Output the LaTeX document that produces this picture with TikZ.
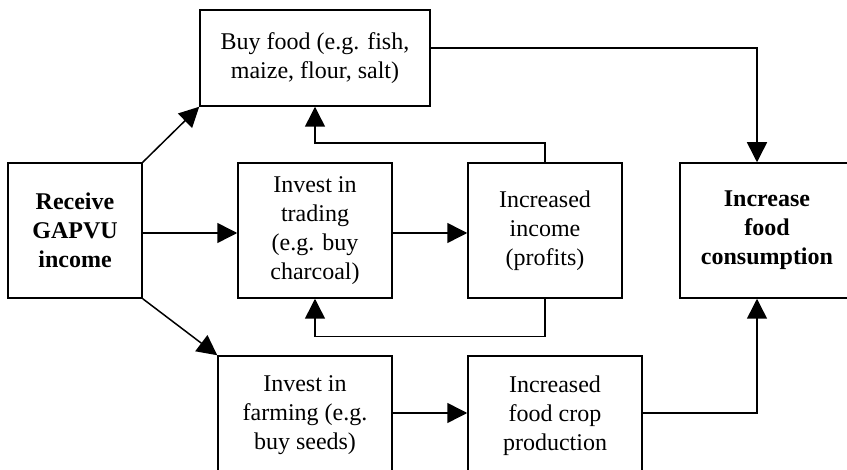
\documentclass[tikz,border=0pt]{standalone}
\usepackage{fontspec}
\setmainfont{Liberation Serif}
\usetikzlibrary{arrows.meta}

\begin{document}
\begin{tikzpicture}[
  box/.style={rectangle, draw=black, line width=1.5pt, inner sep=0pt, align=center,
    font=\fontsize{24}{29}\selectfont},
  flow/.style={line width=1.5pt, -{Triangle[length=20pt, width=20pt]}}]
\useasboundingbox (0pt, 0pt) rectangle (847pt, -470pt);
\fill [white] (0pt, 0pt) rectangle (847pt, -470pt);
\clip (0pt, 0pt) rectangle (847pt, -470pt);
\node (recv) [box, minimum width=134pt, minimum height=135pt] at (75pt, -230.5pt) {\textbf{Receive}\\\textbf{GAPVU}\\\textbf{income}};
\node (buy) [box, minimum width=230pt, minimum height=96pt] at (315pt, -58pt) {Buy food (e.g. fish,\\maize, flour, salt)};
\node (trade) [box, minimum width=154pt, minimum height=135pt] at (315pt, -230.5pt) {Invest in\\trading\\(e.g. buy\\charcoal)};
\node (inc) [box, minimum width=154pt, minimum height=135pt] at (545pt, -230.5pt) {Increased\\income\\(profits)};
\node (cons) [box, minimum width=174pt, minimum height=135pt] at (767pt, -230.5pt) {\textbf{Increase}\\\textbf{food}\\\textbf{consumption}};
% bottom row runs off the lower edge
\node (farm) [box, minimum width=174pt, minimum height=124pt, text depth=10pt] at (305pt, -418pt) {Invest in\\farming (e.g.\\buy seeds)};
\node (crop) [box, minimum width=174pt, minimum height=124pt, text depth=10pt] at (555pt, -418pt) {Increased\\food crop\\production};
\draw [flow] (recv.north east) to (buy.south west);
\draw [flow] ([yshift=-2.5pt]recv.east) to ([yshift=-2.5pt]trade.west);
\draw [flow] (recv.south east) to (farm.north west);
\draw [flow] ([yshift=-2.5pt]trade.east) to ([yshift=-2.5pt]inc.west);
\draw [flow] ([yshift=10pt]buy.east) -| ([xshift=-10pt]cons.north);
\draw [flow] (inc.north) --++ (0, 19pt) -| (buy.south);
\draw [flow] (inc.south) --++ (0, -38pt) -| (trade.south);
\draw [flow] ([yshift=5pt]farm.east) to ([yshift=5pt]crop.west);
\draw [flow] ([yshift=5pt]crop.east) -| ([xshift=-10pt]cons.south);
\end{tikzpicture}
\end{document}
